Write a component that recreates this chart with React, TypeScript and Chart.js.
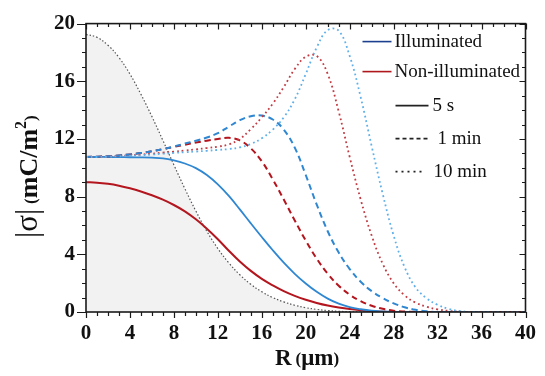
import React, { useEffect, useRef } from "react";
import { Chart, registerables } from "chart.js";

Chart.register(...registerables);

// ---- data ----
const R = [0, 1, 2, 3, 4, 5, 6, 7, 8, 9, 10, 11, 12, 13, 14, 15, 16, 17, 18, 19, 20, 21, 22, 23, 24, 25, 26, 27, 28, 29, 30, 31, 32, 33, 34, 35, 36, 37, 38, 39, 40];

const lightProfile = [19.25, 19.05, 18.5, 17.65, 16.5, 15.1, 13.55, 11.9, 10.2, 8.55, 7.0, 5.6, 4.4, 3.4, 2.58, 1.92, 1.4, 1.0, 0.7, 0.47, 0.3, 0.18, 0.1, 0.05, 0.02, 0, 0, 0, 0, 0, 0, 0, 0, 0, 0, 0, 0, 0, 0, 0, 0];

const illum5s = [10.75, 10.75, 10.75, 10.74, 10.73, 10.72, 10.7, 10.66, 10.52, 10.3, 9.98, 9.5, 8.85, 8.05, 7.12, 6.15, 5.2, 4.28, 3.42, 2.65, 1.98, 1.4, 0.93, 0.58, 0.34, 0.19, 0.09, 0.04, 0.01, 0, 0, 0, 0, 0, 0, 0, 0, 0, 0, 0, 0];

const nonIllum5s = [9.0, 8.97, 8.89, 8.76, 8.58, 8.36, 8.1, 7.79, 7.42, 6.98, 6.43, 5.78, 5.05, 4.25, 3.5, 2.85, 2.3, 1.85, 1.45, 1.12, 0.85, 0.63, 0.45, 0.31, 0.2, 0.12, 0.06, 0.02, 0, 0, 0, 0, 0, 0, 0, 0, 0, 0, 0, 0, 0];

const illum1min = [10.75, 10.77, 10.8, 10.86, 10.93, 11.02, 11.15, 11.3, 11.48, 11.68, 11.88, 12.1, 12.4, 12.85, 13.3, 13.58, 13.62, 13.35, 12.65, 11.4, 9.5, 7.45, 5.6, 4.12, 2.98, 2.1, 1.45, 0.97, 0.6, 0.33, 0.15, 0.05, 0, 0, 0, 0, 0, 0, 0, 0, 0];

const nonIllum1min = [10.75, 10.77, 10.8, 10.86, 10.93, 11.02, 11.15, 11.3, 11.45, 11.6, 11.75, 11.88, 12.0, 12.08, 11.9, 11.35, 10.45, 9.2, 7.8, 6.35, 4.95, 3.7, 2.65, 1.82, 1.2, 0.75, 0.43, 0.22, 0.09, 0.03, 0, 0, 0, 0, 0, 0, 0, 0, 0, 0, 0];

const illum10min = [10.75, 10.75, 10.77, 10.8, 10.83, 10.87, 10.92, 10.98, 11.03, 11.08, 11.13, 11.18, 11.24, 11.3, 11.42, 11.65, 12.05, 12.65, 13.5, 14.75, 16.5, 18.35, 19.55, 19.5, 17.75, 14.9, 11.5, 8.2, 5.3, 3.1, 1.7, 0.95, 0.5, 0.22, 0.07, 0, 0, 0, 0, 0, 0];

const nonIllum10min = [10.75, 10.76, 10.78, 10.82, 10.86, 10.92, 10.98, 11.05, 11.12, 11.2, 11.28, 11.37, 11.47, 11.62, 12.0, 12.68, 13.5, 14.45, 15.6, 16.85, 17.7, 17.75, 16.5, 13.9, 10.75, 7.8, 5.3, 3.35, 2.0, 1.15, 0.65, 0.36, 0.18, 0.08, 0.02, 0, 0, 0, 0, 0, 0];

const X_RANGE = [0, 40];
const Y_RANGE = [0, 20];
const MAJOR_STEP = 4;
const MINOR_STEP = 1;

const legendLabels = ["Illuminated", "Non-illuminated", "5 s", "1 min", "10 min"];
const legendColors = ["#1c3f8e", "#b0171d", "#222222", "#222222", "#222222"];
const legendDashes: number[][] = [[], [], [], [4, 3], [2, 4]];

const SERIF = "'Liberation Serif', 'DejaVu Serif', serif";

const BLUE = "#2f87d2";
const BLUE_LIGHT = "#5fb0ea";
const RED = "#b3161e";
const RED_LIGHT = "#c23c44";

function line(data: number[], color: string, dash: number[], width = 2) {
  return {
    data: R.map((r, i) => ({ x: r, y: data[i] })),
    borderColor: color,
    borderWidth: width,
    borderDash: dash,
    pointRadius: 0,
    fill: false,
    tension: 0.4,
  };
}

const decorPlugin = {
  id: "decor",
  afterDraw(chart: any) {
    const { ctx, chartArea: ca, scales } = chart;
    const xs = scales.x;
    const ys = scales.y;
    ctx.save();

    // frame
    ctx.strokeStyle = "#1a1a1a";
    ctx.lineWidth = 1.6;
    ctx.setLineDash([]);
    ctx.strokeRect(ca.left, ca.top, ca.right - ca.left, ca.bottom - ca.top);

    // ticks
    ctx.lineWidth = 1.2;
    ctx.beginPath();
    for (let v = X_RANGE[0]; v <= X_RANGE[1]; v += MINOR_STEP) {
      const p = Math.round(xs.getPixelForValue(v)) + 0.5;
      const major = v % MAJOR_STEP === 0;
      ctx.moveTo(p, ca.bottom);
      ctx.lineTo(p, ca.bottom + (major ? 6 : 4));
      ctx.moveTo(p, ca.top);
      ctx.lineTo(p, ca.top + (major ? 6 : 3.5));
    }
    for (let v = Y_RANGE[0]; v <= Y_RANGE[1]; v += MINOR_STEP) {
      const p = Math.round(ys.getPixelForValue(v)) + 0.5;
      const major = v % MAJOR_STEP === 0;
      ctx.moveTo(ca.left, p);
      ctx.lineTo(ca.left - (major ? 9 : 4), p);
      ctx.moveTo(ca.right, p);
      ctx.lineTo(ca.right - (major ? 6 : 3.5), p);
    }
    ctx.stroke();

    // x title: R (μm)
    ctx.fillStyle = "#111";
    ctx.textBaseline = "alphabetic";
    ctx.textAlign = "left";
    const xBase = 365;
    let x = 275;
    ctx.font = `bold 23px ${SERIF}`;
    ctx.fillText("R", x, xBase);
    x += ctx.measureText("R").width + 4;
    ctx.font = `bold 17px ${SERIF}`;
    ctx.fillText("(", x, xBase - 1);
    x += ctx.measureText("(").width;
    ctx.font = `bold 23px ${SERIF}`;
    ctx.fillText("μm", x, xBase);
    x += ctx.measureText("μm").width;
    ctx.font = `bold 17px ${SERIF}`;
    ctx.fillText(")", x, xBase - 1);

    // y title: |σ| (mC/m²)
    ctx.save();
    ctx.translate(37, 238);
    ctx.rotate(-Math.PI / 2);
    let t = 0;
    ctx.font = `31px ${SERIF}`;
    ctx.fillText("|σ|", t, 0);
    t += ctx.measureText("|σ|").width + 5;
    ctx.font = `bold 17px ${SERIF}`;
    ctx.fillText("(", t, -1);
    t += ctx.measureText("(").width;
    ctx.font = `bold 26px ${SERIF}`;
    ctx.fillText("mC/m", t, 0);
    t += ctx.measureText("mC/m").width;
    ctx.font = `bold 16px ${SERIF}`;
    ctx.fillText("2", t, -11);
    t += ctx.measureText("2").width;
    ctx.font = `bold 17px ${SERIF}`;
    ctx.fillText(")", t, -1);
    ctx.restore();

    // legend
    const rows = [
      { y: ca.top + 18, x1: ca.right - 163, x2: ca.right - 134, tx: ca.right - 131 },
      { y: ca.top + 48, x1: ca.right - 163, x2: ca.right - 134, tx: ca.right - 131 },
      { y: ca.top + 82, x1: ca.right - 130, x2: ca.right - 97, tx: ca.right - 93 },
      { y: ca.top + 115, x1: ca.right - 130, x2: ca.right - 97, tx: ca.right - 88 },
      { y: ca.top + 148, x1: ca.right - 130, x2: ca.right - 101, tx: ca.right - 92 },
    ];
    ctx.font = `19px ${SERIF}`;
    ctx.textBaseline = "middle";
    legendLabels.forEach((label, i) => {
      const r = rows[i];
      ctx.strokeStyle = legendColors[i];
      ctx.lineWidth = 1.6;
      ctx.setLineDash(legendDashes[i]);
      ctx.beginPath();
      ctx.moveTo(r.x1, r.y);
      ctx.lineTo(r.x2, r.y);
      ctx.stroke();
      ctx.setLineDash([]);
      ctx.fillStyle = "#111";
      ctx.fillText(label, r.tx, r.y);
    });

    ctx.restore();
  },
};

export default function App() {
  const ref = useRef<HTMLCanvasElement | null>(null);

  useEffect(() => {
    document.body.style.margin = "0";
    const canvas = ref.current;
    if (!canvas) return;
    const chart = new Chart(canvas, {
      type: "line",
      data: {
        datasets: [
          line(illum10min, BLUE_LIGHT, [1.8, 3], 1.8),
          line(nonIllum10min, RED_LIGHT, [1.8, 3], 1.8),
          line(illum1min, BLUE, [6, 4], 2),
          line(nonIllum1min, RED, [6, 4], 2),
          line(illum5s, BLUE, [], 1.8),
          line(nonIllum5s, RED, [], 2),
          {
            data: R.map((r, i) => ({ x: r, y: lightProfile[i] })),
            borderColor: "#555555",
            borderWidth: 1.2,
            borderDash: [1.5, 2],
            pointRadius: 0,
            fill: "origin",
            backgroundColor: "#f2f2f2",
            tension: 0.4,
          },
        ],
      },
      options: {
        responsive: false,
        animation: false,
        events: [],
        layout: { padding: { left: 0, right: 11, top: 20, bottom: 0 } },
        plugins: {
          legend: { display: false },
          tooltip: { enabled: false },
        },
        scales: {
          x: {
            type: "linear",
            min: X_RANGE[0],
            max: X_RANGE[1],
            grid: { display: false, drawTicks: false },
            border: { display: false },
            ticks: {
              stepSize: MAJOR_STEP,
              padding: 9,
              color: "#111",
              maxRotation: 0,
              autoSkip: false,
              font: { family: SERIF, size: 21, weight: "bold" },
            },
            afterFit: (s: any) => {
              s.height = 64;
            },
          },
          y: {
            type: "linear",
            min: Y_RANGE[0],
            max: Y_RANGE[1],
            grid: { display: false, drawTicks: false },
            border: { display: false },
            ticks: {
              stepSize: MAJOR_STEP,
              padding: 11,
              color: "#111",
              font: { family: SERIF, size: 21, weight: "bold" },
            },
            afterFit: (s: any) => {
              s.width = 86;
            },
          },
        },
      },
      plugins: [decorPlugin],
    } as any);
    return () => chart.destroy();
  }, []);

  return (
    <div style={{ width: 545, height: 376, background: "#fff" }}>
      <canvas ref={ref} width={545} height={376} />
    </div>
  );
}
